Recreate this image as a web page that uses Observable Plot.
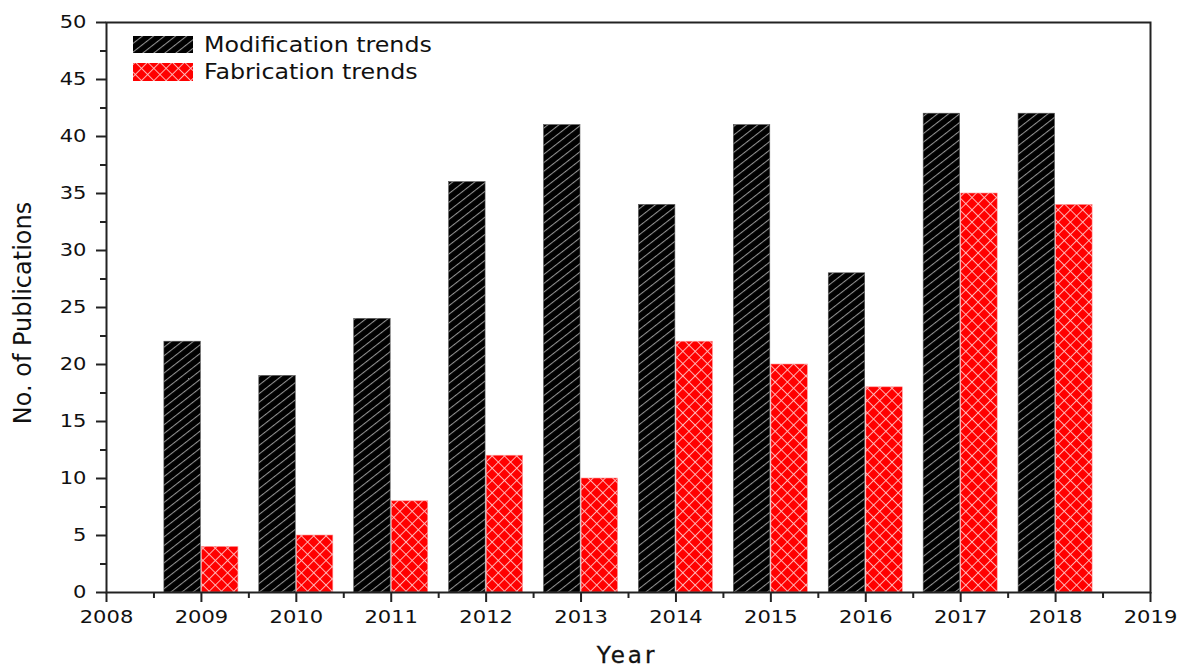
<!DOCTYPE html>
<html><head><meta charset="utf-8">
<script src="https://cdn.jsdelivr.net/npm/d3@7"></script>
<script src="https://cdn.jsdelivr.net/npm/@observablehq/plot@0.6"></script>
<style>
html,body{margin:0;padding:0;background:#fff;}
#chart svg{display:block;}
</style></head><body><div id="chart"></div>
<script>
// ---- data ----
const years = [2009, 2010, 2011, 2012, 2013, 2014, 2015, 2016, 2017, 2018];
const modification = [22, 19, 24, 36, 41, 34, 41, 28, 42, 42];
const fabrication = [4, 5, 8, 12, 10, 22, 20, 18, 35, 34];
const seriesNames = ["Modification trends", "Fabrication trends"];
const xTicks = [2008, 2009, 2010, 2011, 2012, 2013, 2014, 2015, 2016, 2017, 2018, 2019];
const yTicks = [0, 5, 10, 15, 20, 25, 30, 35, 40, 45, 50];
const xTitle = "Year";
const yTitle = "No. of Publications";

const rows = years.map((year, i) => ({year, modification: modification[i], fabrication: fabrication[i]}));
const minorX = xTicks.slice(0, -1).map(t => t + 0.5);
const minorY = yTicks.slice(0, -1).map(t => t + 2.5);
const barW = 0.39, gap = 0.006;
const FONT = "DejaVu Sans, Liberation Sans, sans-serif";

const plot = Plot.plot({
  width: 1180, height: 669,
  marginLeft: 106, marginRight: 30, marginTop: 22, marginBottom: 77,
  style: {fontFamily: FONT, fontSize: "18px", color: "#111", background: "#fff"},
  x: {domain: [2008, 2019]},
  y: {domain: [0, 50]},
  marks: [
    Plot.rectY(rows, {x1: d => d.year - barW, x2: d => d.year - gap, y1: 0, y2: "modification",
      fill: "url(#hatchBlack)", stroke: "#555", strokeWidth: 0.6}),
    Plot.rectY(rows, {x1: d => d.year + gap, x2: d => d.year + barW, y1: 0, y2: "fabrication",
      fill: "url(#hatchRed)", stroke: "#ff9a9a", strokeWidth: 0.6}),
    Plot.axisX({ticks: xTicks, tickSize: 10, tickPadding: 8, tickFormat: d => String(d), strokeWidth: 2, stroke: "#222", label: null}),
    Plot.axisX({ticks: minorX, tickSize: 6, tickFormat: () => "", strokeWidth: 2, stroke: "#222", label: null}),
    Plot.axisY({ticks: yTicks, tickSize: 10, tickPadding: 10, tickFormat: d => String(d), strokeWidth: 2, stroke: "#222", label: null}),
    Plot.axisY({ticks: minorY, tickSize: 6, tickFormat: () => "", strokeWidth: 2, stroke: "#222", label: null}),
    Plot.frame({stroke: "#222", strokeWidth: 2})
  ]
});

const svg = d3.select(plot);
const defs = svg.insert("defs", ":first-child");
const pb = defs.append("pattern").attr("id", "hatchBlack").attr("patternUnits", "userSpaceOnUse")
  .attr("width", 6.8).attr("height", 6.8).attr("patternTransform", "rotate(52)");
pb.append("rect").attr("width", 6.8).attr("height", 6.8).attr("fill", "#000");
pb.append("line").attr("x1", 0.5).attr("y1", 0).attr("x2", 0.5).attr("y2", 6.8).attr("stroke", "#929292").attr("stroke-width", 1.1);
const pr = defs.append("pattern").attr("id", "hatchRed").attr("patternUnits", "userSpaceOnUse")
  .attr("width", 8.7).attr("height", 8.7).attr("patternTransform", "rotate(45)");
pr.append("rect").attr("width", 8.7).attr("height", 8.7).attr("fill", "#ff0000");
pr.append("line").attr("x1", 0.5).attr("y1", 0).attr("x2", 0.5).attr("y2", 8.7).attr("stroke", "#ffc4c4").attr("stroke-width", 0.9);
pr.append("line").attr("x1", 0).attr("y1", 0.5).attr("x2", 8.7).attr("y2", 0.5).attr("stroke", "#ffc4c4").attr("stroke-width", 0.9);

// widen text horizontally (reference text is horizontally stretched)
function widen(sel, k) {
  sel.each(function() {
    const x = +(this.getAttribute("x") || 0);
    const t = this.getAttribute("transform") || "";
    this.setAttribute("transform", `${t} translate(${x},0) scale(${k},1) translate(${-x},0)`);
  });
}
widen(svg.selectAll("g[aria-label='x-axis tick label'] text, g[aria-label='y-axis tick label'] text"), 1.17);

// axis titles
svg.append("text").attr("x", 627).attr("y", 663).attr("text-anchor", "middle")
  .attr("font-family", FONT).attr("font-size", 23).attr("letter-spacing", 3).attr("fill", "#111")
  .attr("stroke", "#111").attr("stroke-width", 0.3).text(xTitle);
svg.append("text").attr("transform", "translate(31,313) rotate(-90)").attr("text-anchor", "middle")
  .attr("font-family", FONT).attr("font-size", 24).attr("fill", "#111").text(yTitle);

// legend
const leg = svg.append("g").attr("text-anchor", "start");
const swatches = [{y: 36, h: 17, fill: "url(#hatchBlack)"}, {y: 63, h: 18, fill: "url(#hatchRed)"}];
seriesNames.forEach((name, i) => {
  leg.append("rect").attr("x", 133).attr("y", swatches[i].y).attr("width", 60).attr("height", swatches[i].h)
    .attr("fill", swatches[i].fill);
  const t = leg.append("text").attr("x", 204).attr("y", swatches[i].y + 16).attr("text-anchor", "start")
    .attr("font-family", FONT).attr("font-size", 22).attr("fill", "#111").text(name);
  widen(t, 1.08);
});

document.getElementById("chart").appendChild(plot);
</script>
</body></html>
